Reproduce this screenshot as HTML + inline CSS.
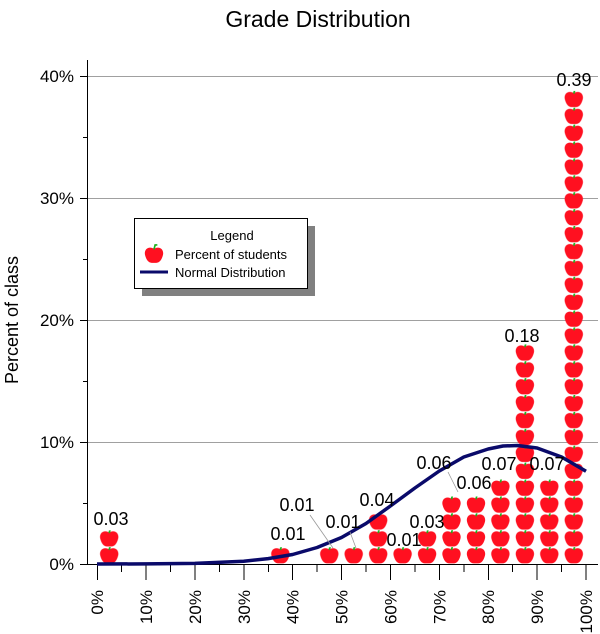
<!DOCTYPE html><html><head><meta charset="utf-8"><style>body{margin:0;background:#fff}svg{display:block}text{font-family:"Liberation Sans",sans-serif}</style></head><body>
<svg width="600" height="634" viewBox="0 0 600 634" xmlns="http://www.w3.org/2000/svg">
<defs>
<g id="a"><g transform="scale(1.12)"><path d="M-1,-6 C-6,-8 -9,-4 -8,0 C-7,4 -5,7 -2,7 L2,7 C5,7 7,4 8,0 C9,-4 6,-8 1,-6 Z" fill="#ff1020"/><path d="M0,-5 L1,-9 L3,-9" stroke="#1ab01a" stroke-width="1.5" fill="none"/></g></g>
<pattern id="pa" patternUnits="userSpaceOnUse" x="-10" y="564" width="20" height="16.9"><use href="#a" x="10" y="8.45"/></pattern>
</defs>
<text x="318" y="27" font-size="23" text-anchor="middle">Grade Distribution</text>
<g stroke="#a0a0a0" stroke-width="1"><line x1="87" y1="76.5" x2="598" y2="76.5"/><line x1="87" y1="198.5" x2="598" y2="198.5"/><line x1="87" y1="320.5" x2="598" y2="320.5"/><line x1="87" y1="442.5" x2="598" y2="442.5"/></g>
<g stroke="#000" stroke-width="1"><line x1="87.5" y1="60" x2="87.5" y2="564"/><line x1="80" y1="564.5" x2="598" y2="564.5"/>
<line x1="80" y1="76.5" x2="87" y2="76.5"/><line x1="80" y1="198.5" x2="87" y2="198.5"/><line x1="80" y1="320.5" x2="87" y2="320.5"/><line x1="80" y1="442.5" x2="87" y2="442.5"/>
<line x1="83" y1="137.5" x2="87" y2="137.5"/><line x1="83" y1="259.5" x2="87" y2="259.5"/><line x1="83" y1="381.5" x2="87" y2="381.5"/><line x1="83" y1="503.5" x2="87" y2="503.5"/>
</g>
<g font-size="17" text-anchor="end"><text x="74" y="82">40%</text><text x="74" y="204">30%</text><text x="74" y="326">20%</text><text x="74" y="448">10%</text><text x="74" y="570">0%</text></g>
<text transform="translate(18,320) rotate(-90)" font-size="18" text-anchor="middle">Percent of class</text>
<g stroke="#000">
<line x1="97.5" y1="564" x2="97.5" y2="580"/><line x1="121.5" y1="564" x2="121.5" y2="572"/><line x1="146" y1="564" x2="146" y2="580"/><line x1="170.5" y1="564" x2="170.5" y2="572"/><line x1="195" y1="564" x2="195" y2="580"/><line x1="219.5" y1="564" x2="219.5" y2="572"/><line x1="244" y1="564" x2="244" y2="580"/><line x1="268.5" y1="564" x2="268.5" y2="572"/><line x1="292.5" y1="564" x2="292.5" y2="580"/><line x1="317" y1="564" x2="317" y2="572"/><line x1="341.5" y1="564" x2="341.5" y2="580"/><line x1="366" y1="564" x2="366" y2="572"/><line x1="390.5" y1="564" x2="390.5" y2="580"/><line x1="415" y1="564" x2="415" y2="572"/><line x1="439.5" y1="564" x2="439.5" y2="580"/><line x1="464" y1="564" x2="464" y2="572"/><line x1="488.5" y1="564" x2="488.5" y2="580"/><line x1="512.5" y1="564" x2="512.5" y2="572"/><line x1="537" y1="564" x2="537" y2="580"/><line x1="561.5" y1="564" x2="561.5" y2="572"/><line x1="586" y1="564" x2="586" y2="580"/>
</g>
<g font-size="17" text-anchor="end">
<text transform="translate(103,590) rotate(-90)">0%</text><text transform="translate(152,590) rotate(-90)">10%</text><text transform="translate(201,590) rotate(-90)">20%</text><text transform="translate(250,590) rotate(-90)">30%</text><text transform="translate(298.6,590) rotate(-90)">40%</text><text transform="translate(347.5,590) rotate(-90)">50%</text><text transform="translate(396.4,590) rotate(-90)">60%</text><text transform="translate(445.3,590) rotate(-90)">70%</text><text transform="translate(494.2,590) rotate(-90)">80%</text><text transform="translate(543.1,590) rotate(-90)">90%</text><text transform="translate(592,590) rotate(-90)">100%</text>
</g>
<g fill="url(#pa)">
<g transform="translate(109.2,0)"><rect x="-10" y="530.2" width="20" height="33.8"/></g>
<g transform="translate(280.4,0)"><rect x="-10" y="547.1" width="20" height="16.9"/></g>
<g transform="translate(329.3,0)"><rect x="-10" y="547.1" width="20" height="16.9"/></g>
<g transform="translate(353.7,0)"><rect x="-10" y="547.1" width="20" height="16.9"/></g>
<g transform="translate(378.2,0)"><rect x="-10" y="513.3" width="20" height="50.7"/></g>
<g transform="translate(402.6,0)"><rect x="-10" y="547.1" width="20" height="16.9"/></g>
<g transform="translate(427.1,0)"><rect x="-10" y="530.2" width="20" height="33.8"/></g>
<g transform="translate(451.5,0)"><rect x="-10" y="496.4" width="20" height="67.6"/></g>
<g transform="translate(476,0)"><rect x="-10" y="496.4" width="20" height="67.6"/></g>
<g transform="translate(500.4,0)"><rect x="-10" y="479.5" width="20" height="84.5"/></g>
<g transform="translate(524.9,0)"><rect x="-10" y="344.3" width="20" height="219.7"/></g>
<g transform="translate(549.3,0)"><rect x="-10" y="479.5" width="20" height="84.5"/></g>
<g transform="translate(573.8,0)"><rect x="-10" y="90.8" width="20" height="473.2"/></g>
</g>
<polyline fill="none" stroke="#0a0a6a" stroke-width="3.5" stroke-linejoin="round" points="97,564 145.9,563.9 194.8,563.4 243.7,561.2 268.2,558.6 292.6,554.5 317.1,547.5 341.5,537.5 366,523.5 390.4,506 414.9,488 439.3,471 463.8,457 488.2,449 503,446 517.5,445.5 537.1,448 561.6,457 586,471.3"/>
<g stroke="#999" stroke-width="0.8"><line x1="310" y1="515" x2="333" y2="548"/><line x1="350" y1="532" x2="356" y2="548"/><line x1="448" y1="472" x2="458" y2="492"/></g>
<g font-size="18" text-anchor="middle">
<text x="111" y="525">0.03</text><text x="288" y="540">0.01</text><text x="297" y="511">0.01</text><text x="343" y="528">0.01</text><text x="377" y="506">0.04</text><text x="404" y="546">0.01</text><text x="427" y="528">0.03</text><text x="434" y="469">0.06</text><text x="474" y="489">0.06</text><text x="499" y="470">0.07</text><text x="522" y="342">0.18</text><text x="547" y="470">0.07</text><text x="574" y="86">0.39</text>
</g>
<rect x="142" y="226" width="173" height="70" fill="#808080"/>
<rect x="134.5" y="218.5" width="173" height="70" fill="#fff" stroke="#000"/>
<text x="232" y="240" font-size="13" text-anchor="middle">Legend</text>
<use href="#a" x="154" y="255"/>
<text x="175" y="259" font-size="13">Percent of students</text>
<line x1="140" y1="272" x2="168" y2="272" stroke="#0a0a6a" stroke-width="3"/>
<text x="175" y="277" font-size="13">Normal Distribution</text>
</svg></body></html>
